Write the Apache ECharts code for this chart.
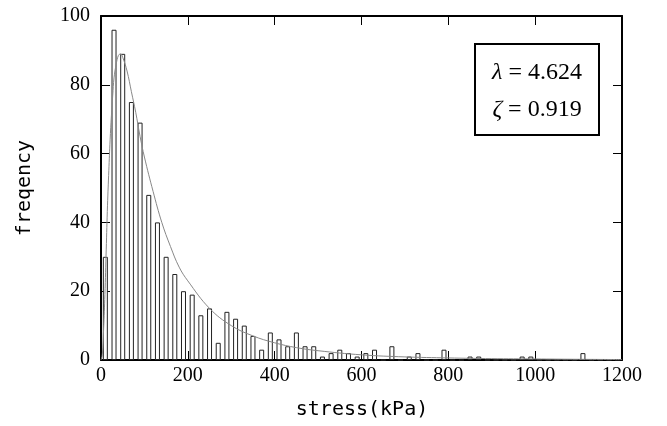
<!DOCTYPE html>
<html>
<head>
<meta charset="utf-8">
<script src="https://cdn.jsdelivr.net/npm/echarts@6/dist/echarts.min.js"></script>
<style>
html,body{margin:0;padding:0;background:#fff;}
#c{width:667px;height:426px;}
</style>
</head>
<body>
<div id="c"></div>
<script>
// Histogram bins (bin centres, kPa) and frequencies
const binCenters = [10,30,50,70,90,110,130,150,170,190,210,230,250,270,290,310,330,350,370,390,410,430,450,470,490,510,530,550,570,590,610,630,650,670,690,710,730,750,770,790,810,830,850,870,890,910,930,950,970,990,1010,1030,1050,1070,1090,1110,1130,1150,1170,1190];
const frequencies = [30,96,89,75,69,48,40,30,25,20,19,13,15,5,14,12,10,7,3,8,6,4,8,4,4,1,2,3,2,1,2,3,0,4,0,1,2,0,0,3,0,0,1,1,0,0,0,0,1,1,0,0,0,0,0,2,0,0,0,0];
// Fitted lognormal curve
const curveX = [0,3,6,9,12,15,18,21,24,27,30,35,40,45,50,60,70,80,90,100,120,140,160,180,200,250,300,350,400,450,500,600,700,800,900,1000,1100,1200];
const curveY = [0,1.5,9,19,32,45,55,64,71,77,82,86,88.5,89,88,84,78,72,65,59,49,40,33,27,23,15,10,7,5,3.6,2.7,1.5,0.9,0.6,0.4,0.3,0.2,0.13];
const xTicks = [0,200,400,600,800,1000,1200];
const yTicks = [0,20,40,60,80,100];
const paramLines = [['λ','4.624'],['ζ','0.919']];

const barData = binCenters.map((x,i)=>[x,frequencies[i]]);
const lineData = curveX.map((x,i)=>[x,curveY[i]]);

const chart = echarts.init(document.getElementById('c'), null, {renderer:'canvas'});
const serif = 'Liberation Serif, Times New Roman, serif';
const axLine = {show:true, onZero:false, lineStyle:{color:'#000', width:2}};
const tick = {show:true, inside:true, length:9, lineStyle:{color:'#000', width:1}};
const plain = v => String(v);
chart.setOption({
  animation:false,
  backgroundColor:'#fff',
  grid:{left:101, top:16, width:521, height:344, containLabel:false},
  xAxis:[
    {type:'value', min:xTicks[0], max:xTicks[xTicks.length-1], interval:200, position:'bottom',
     axisLine:axLine, axisTick:tick, splitLine:{show:false},
     axisLabel:{color:'#000', fontFamily:serif, fontSize:20, margin:6, formatter:plain}},
    {type:'value', min:xTicks[0], max:xTicks[xTicks.length-1], interval:200, position:'top',
     axisLine:axLine, axisTick:tick, splitLine:{show:false}, axisLabel:{show:false}}
  ],
  yAxis:[
    {type:'value', min:yTicks[0], max:yTicks[yTicks.length-1], interval:20, position:'left',
     axisLine:axLine, axisTick:tick, splitLine:{show:false},
     axisLabel:{color:'#000', fontFamily:serif, fontSize:20, margin:11, formatter:plain}},
    {type:'value', min:yTicks[0], max:yTicks[yTicks.length-1], interval:20, position:'right',
     axisLine:axLine, axisTick:tick, splitLine:{show:false}, axisLabel:{show:false}}
  ],
  series:[
    {type:'bar', data:barData, barWidth:5,
     itemStyle:{color:'#fff', borderColor:'#222', borderWidth:1}, z:2, silent:true},
    {type:'line', data:lineData, smooth:0.4, showSymbol:false,
     lineStyle:{color:'#888', width:1}, z:3, silent:true}
  ],
  graphic:[
    {type:'text', x:362, y:410, style:{text:'stress(kPa)', fill:'#000', font:'20px DejaVu Sans Mono', textAlign:'center', textVerticalAlign:'middle'}},
    {type:'text', x:25, y:188, rotation:Math.PI/2, style:{text:'freqency', fill:'#000', font:'20px DejaVu Sans Mono', textAlign:'center', textVerticalAlign:'middle'}},
    {type:'rect', shape:{x:475, y:44, width:124, height:91}, style:{fill:'#fff', stroke:'#000', lineWidth:2}, z:10},
    {type:'text', x:537, y:73, z:11, style:{text:'{i|'+paramLines[0][0]+'} = '+paramLines[0][1], fill:'#000', font:'24px '+serif, textAlign:'center', textVerticalAlign:'middle', rich:{i:{fontStyle:'italic', fontFamily:serif, fontSize:24}}}},
    {type:'text', x:537, y:110, z:11, style:{text:'{i|'+paramLines[1][0]+'} = '+paramLines[1][1], fill:'#000', font:'24px '+serif, textAlign:'center', textVerticalAlign:'middle', rich:{i:{fontStyle:'italic', fontFamily:serif, fontSize:24}}}}
  ]
});
</script>
</body>
</html>
